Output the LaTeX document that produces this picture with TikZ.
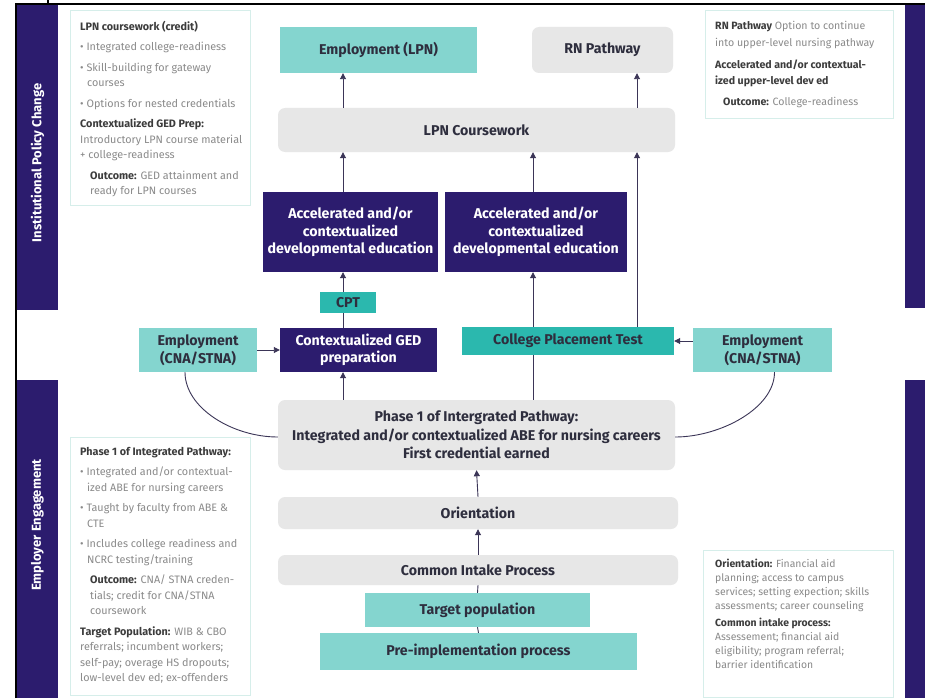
\documentclass[tikz,border=0pt]{standalone}
\usepackage{fontspec}
\setmainfont{Fira Sans}
\usepackage{xcolor}
\usetikzlibrary{arrows.meta,positioning}

\definecolor{navy}{HTML}{2C1C6E}
\definecolor{tealL}{HTML}{84D5CF}
\definecolor{tealM}{HTML}{2BB8AE}
\definecolor{grayF}{HTML}{E7E7E7}
\definecolor{noteline}{HTML}{D6EEEA}
\definecolor{notegray}{HTML}{8A8A8A}
\definecolor{notehead}{HTML}{3C3C3C}
\definecolor{ink}{HTML}{2E2E3E}
\definecolor{wire}{HTML}{3B3557}

\newcommand{\notehd}[1]{{\color{notehead}\bfseries #1}}

\begin{document}
\begin{tikzpicture}[x=1pt,y=-1pt,
  flow/.style={font=\fontsize{14.2}{17.5}\selectfont\bfseries, text=ink, align=center, inner sep=2pt},
  graybox/.style={flow, fill=grayF, rounded corners=7pt},
  tealbox/.style={flow, fill=tealL},
  cptbox/.style={flow, fill=tealM},
  navybox/.style={flow, fill=navy, text=white},
  noteframe/.style={draw=noteline, line width=1.2pt, fill=white, anchor=north west, inner sep=0pt},
  notetext/.style={anchor=north west, align=left, text=notegray, inner sep=0pt, font=\fontsize{10.8}{15.5}\selectfont},
  bartext/.style={rotate=90, text=white, font=\fontsize{13}{15}\selectfont\bfseries},
  arr/.style={draw=wire, line width=0.9pt, -{Triangle[length=6pt,width=6pt]}},
  link/.style={draw=wire, line width=0.9pt}]
  \useasboundingbox (0,0) rectangle (925,698);
  \fill[white] (0,0) rectangle (925,698);

  % side bars
  \fill[navy] (17,5) rectangle (58,310);
  \fill[navy] (17,380) rectangle (58,698);
  \fill[navy] (905,5) rectangle (925,308);
  \fill[navy] (905,380) rectangle (925,698);
  \node[bartext] (policy) at (37.5,163) {Institutional Policy Change};
  \node[bartext] (employer) at (37.5,525) {Employer Engagement};
  \draw[line width=1.6pt] (16,698) -- (16,4) -- (925,4);
  \draw[line width=1.6pt] (48,0) -- (48,4);

  % lanes
  \coordinate (laneA) at (343,0);
  \coordinate (laneB) at (533,0);
  \coordinate (laneC) at (637,0);

  % flow boxes
  \node[tealbox, minimum width=197, minimum height=46] (emplpn) at (378.5,50) {Employment (LPN)};
  \node[graybox, minimum width=141, minimum height=46] (rnpath) at (602.5,50) {RN Pathway};
  \node[graybox, minimum width=397, minimum height=44] (lpncw) at (476.5,130) {LPN Coursework};
  \node[navybox, minimum width=175, minimum height=80] (devedA) at (350.5,232) {Accelerated and/or\\contextualized\\developmental education};
  \node[navybox, minimum width=182, minimum height=80] (devedB) at (536,232) {Accelerated and/or\\contextualized\\developmental education};
  \node[cptbox, minimum width=56, minimum height=21] (cpt) at (348,302.5) {CPT};
  \node[tealbox, minimum width=118, minimum height=44] (emCL) at (198,350) {Employment\\(CNA/STNA)};
  \node[navybox, minimum width=157, minimum height=44] (ged) at (358.5,350) {Contextualized GED\\preparation};
  \node[cptbox, minimum width=212, minimum height=28] (cptest) at (568,341) {College Placement Test};
  \node[tealbox, minimum width=139, minimum height=44] (emCR) at (762.5,350) {Employment\\(CNA/STNA)};
  \node[graybox, minimum width=397, minimum height=70, font=\fontsize{14.2}{18.5}\selectfont\bfseries] (phase) at (476.5,435) {Phase 1 of Intergrated Pathway:\\Integrated and/or contextualized ABE for nursing careers\\First credential earned};
  \node[graybox, minimum width=400, minimum height=32] (orient) at (478,513) {Orientation};
  \node[graybox, minimum width=400, minimum height=30] (intake) at (478,570) {Common Intake Process};
  \node[tealbox, minimum width=225, minimum height=34] (target) at (477.5,610) {Target population};
  \node[tealbox, minimum width=317, minimum height=37] (preimp) at (478.5,651.5) {Pre-implementation process};

  % connectors
  \draw[arr] (lpncw.north -| laneA) -- (emplpn.south -| laneA);
  \draw[arr] (lpncw.north -| laneC) -- (rnpath.south -| laneC);
  \draw[arr] (devedA.north -| laneA) -- (lpncw.south -| laneA);
  \draw[arr] (devedB.north -| laneB) -- (lpncw.south -| laneB);
  \draw[arr] (cptest.north -| laneC) -- (lpncw.south -| laneC);
  \draw[arr] (cpt.north -| laneA) -- (devedA.south -| laneA);
  \draw[link] (ged.north -| laneA) -- (cpt.south -| laneA);
  \draw[arr] (phase.north -| laneA) -- (ged.south -| laneA);
  \draw[link] (phase.north -| laneB) -- (cptest.south -| laneB);
  \draw[arr] (cptest.north -| laneB) -- (devedB.south -| laneB);
  \draw[arr] (emCL.east) -- (ged.west);
  \draw[arr] (cptest.east -| emCR.west) -- (cptest.east);
  \draw[arr] (orient.north) -- (phase.south);
  \draw[arr] (intake.north) -- (orient.south);
  \draw[link] (target.north) -- (intake.south);
  \draw[link] (preimp.north) -- (target.south);
  \draw[link] ([xshift=-13]emCL.south) .. controls +(0,36) and +(-45,0) .. ([yshift=-2]phase.west);
  \draw[link] ([xshift=12]emCR.south) .. controls +(0,36) and +(45,0) .. ([yshift=-2]phase.east);

  % side notes
  \node[noteframe, minimum width=180, minimum height=195] (tlbox) at (70,10) {};
  \node[notetext] (tltext) at ([shift={(10,11)}]tlbox.north west) {%
    \notehd{LPN coursework (credit)}\\[5pt]
    • Integrated college-readiness\\[5pt]
    • Skill-building for gateway\\
    \hspace*{7pt}courses\\[5pt]
    • Options for nested credentials\\[5pt]
    \notehd{Contextualized GED Prep:}\\
    Introductory LPN course material\\
    + college-readiness\\[5pt]
    \hspace*{10pt}\notehd{Outcome:} GED attainment and\\
    \hspace*{10pt}ready for LPN courses};

  \node[noteframe, minimum width=188, minimum height=108] (trbox) at (705,10) {};
  \node[notetext, font=\fontsize{10.6}{16.8}\selectfont] (trtext) at ([shift={(10,11)}]trbox.north west) {%
    \notehd{RN Pathway} Option to continue\\
    into upper-level nursing pathway\\[5pt]
    \notehd{Accelerated and/or contextual-}\\
    \notehd{ized upper-level dev ed}\\[4pt]
    \hspace*{8pt}\notehd{Outcome:} College-readiness};

  \node[noteframe, minimum width=180, minimum height=258] (blbox) at (70,437) {};
  \node[notetext] (bltext) at ([shift={(10,10)}]blbox.north west) {%
    \notehd{Phase 1 of Integrated Pathway:}\\[5pt]
    • Integrated and/or contextual-\\
    \hspace*{7pt}ized ABE for nursing careers\\[5pt]
    • Taught by faculty from ABE \&\\
    \hspace*{7pt}CTE\\[5pt]
    • Includes college readiness and\\
    \hspace*{7pt}NCRC testing/training\\[5pt]
    \hspace*{10pt}\notehd{Outcome:} CNA/ STNA creden-\\
    \hspace*{10pt}tials; credit for CNA/STNA\\
    \hspace*{10pt}coursework\\[5pt]
    \notehd{Target Population:} WIB \& CBO\\
    referrals; incumbent workers;\\
    self-pay; overage HS dropouts;\\
    low-level dev ed; ex-offenders};

  \node[noteframe, minimum width=190, minimum height=147] (brbox) at (703,550) {};
  \node[notetext, font=\fontsize{10.4}{14}\selectfont] (brtext) at ([shift={(12,9)}]brbox.north west) {%
    \notehd{Orientation:} Financial aid\\
    planning; access to campus\\
    services; setting expection; skills\\
    assessments; career counseling\\[3pt]
    \notehd{Common intake process:}\\
    Assessement; financial aid\\
    eligibility; program referral;\\
    barrier identification};
\end{tikzpicture}
\end{document}
